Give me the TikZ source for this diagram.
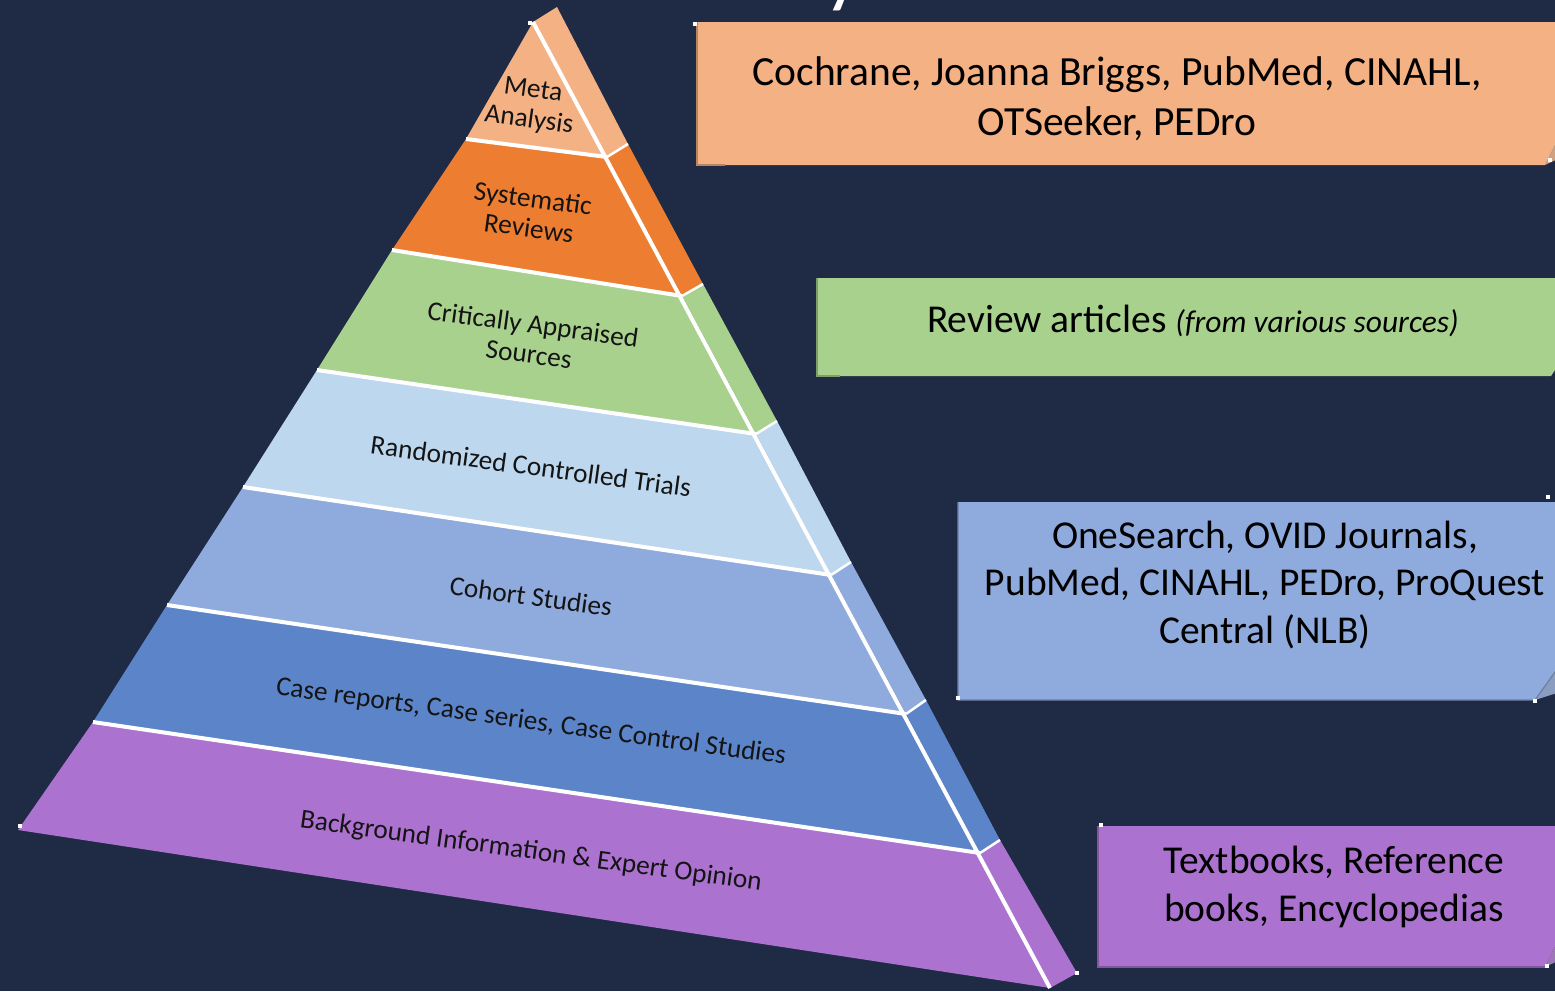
\documentclass[tikz,border=0pt]{standalone}
\usepackage{fontspec}
\setmainfont{Carlito}
\usetikzlibrary{calc}

\definecolor{bgnavy}{HTML}{1F2A44}
\definecolor{cMeta}{HTML}{F4B183}
\definecolor{cSys}{HTML}{ED7D31}
\definecolor{cCrit}{HTML}{A9D18E}
\definecolor{cRct}{HTML}{BDD7EE}
\definecolor{cCoh}{HTML}{8FAADC}
\definecolor{cCase}{HTML}{5B84C9}
\definecolor{cBack}{HTML}{AC72D0}
\definecolor{ink}{HTML}{141414}

\tikzset{
  ridge/.style={white, line width=4pt},
  seam/.style={white, line width=4pt},
  sideseam/.style={white, line width=2.5pt},
  tierlabel/.style={text=ink, rotate=-7.8, align=center, inner sep=0pt,
                    font=\fontsize{27.3}{30}\selectfont},
  boxtext/.style={text=black, align=center, inner sep=0pt},
  handle/.style={fill=white, draw=none, minimum size=4pt, inner sep=0pt},
  flap/.style={fill=#1!70!gray},
  rim/.style={draw=#1!75!black, line width=1.2pt},
}

\begin{document}
\begin{tikzpicture}[x=1pt,y=-1pt]
\useasboundingbox (0,0) rectangle (1555,991);
\clip (0,0) rectangle (1555,991);
\fill[bgnavy] (0,0) rectangle (1555,991);

% heading, mostly above the visible area
\node[text=white, font=\bfseries\fontsize{60}{60}\selectfont, anchor=base] (title) at (842,1) {y};

% ---- pyramid corner points: left edge (L), ridge (R), back edge of side (S)
\coordinate (L0) at (533,22);  \coordinate (R0) at (533,22);  \coordinate (S0) at (557,7);
\coordinate (L1) at (466,139); \coordinate (R1) at (607,157); \coordinate (S1) at (628,144);
\coordinate (L2) at (392,250); \coordinate (R2) at (682,296); \coordinate (S2) at (703,284);
\coordinate (L3) at (317,370); \coordinate (R3) at (756,434); \coordinate (S3) at (777,421);
\coordinate (L4) at (243,487); \coordinate (R4) at (831,575); \coordinate (S4) at (851,562);
\coordinate (L5) at (167,605); \coordinate (R5) at (906,714); \coordinate (S5) at (926,700);
\coordinate (L6) at (93,722);  \coordinate (R6) at (980,853); \coordinate (S6) at (1000,840);
\coordinate (L7) at (18,830);  \coordinate (R7) at (1050,988); \coordinate (S7) at (1077,973);

% tiers: front face and side face
\foreach \i/\j/\c in {0/1/cMeta,1/2/cSys,2/3/cCrit,3/4/cRct,4/5/cCoh,5/6/cCase,6/7/cBack}{
  \fill[\c] (L\i) -- (R\i) -- (R\j) -- (L\j) -- cycle;
  \fill[\c] (R\i) -- (S\i) -- (S\j) -- (R\j) -- cycle;
}
\foreach \i in {1,...,6}{
  \draw[seam] (L\i) -- (R\i);
  \draw[sideseam] (R\i) -- (S\i);
}
\draw[ridge] (R0) -- (R7);

% tier labels
\node[tierlabel] (meta) at (531,106) {Meta\\Analysis};
\node[tierlabel] (sys)  at (531,213) {Systematic\\Reviews};
\node[tierlabel] (crit) at (531,339) {Critically Appraised\\Sources};
\node[tierlabel] (rct)  at (531,466) {Randomized Controlled Trials};
\node[tierlabel] (coh)  at (531,596) {Cohort Studies};
\node[tierlabel] (case) at (531,722) {Case reports, Case series, Case Control Studies};
\node[tierlabel] (back) at (531,852) {Background Information \& Expert Opinion};

% ---- source boxes (folded corner at the lower right)
\fill[cMeta] (697,22) -- (1575,22) -- (1575,105) -- (1545,165) -- (697,165) -- cycle;
\fill[flap=cMeta] (1545,165) -- (1560,135) -- (1560,158) -- cycle;
\draw[rim=cMeta] (697,22) -- (697,165) -- (725,165);

\fill[cCrit] (817,278) -- (1575,278) -- (1575,340) -- (1551,376) -- (817,376) -- cycle;
\draw[rim=cCrit] (817,278) -- (817,376) -- (840,376);

\fill[cCoh] (958,502) -- (1575,502) -- (1575,644) -- (1535,700) -- (958,700) -- cycle;
\fill[flap=cCoh] (1535,700) -- (1560,665) -- (1560,692) -- cycle;
\draw[rim=cCoh] (958,502) -- (958,700) -- (1535,700) -- (1560,665);

\fill[cBack] (1098,826) -- (1575,826) -- (1575,905) -- (1545,967) -- (1098,967) -- cycle;
\fill[flap=cBack] (1545,967) -- (1560,936) -- (1560,960) -- cycle;
\draw[rim=cBack] (1098,826) -- (1098,967) -- (1545,967);

\node[boxtext, font=\fontsize{41.5}{50}\selectfont] (src1) at (1117,99)
  {Cochrane, Joanna Briggs, PubMed, CINAHL,\\OTSeeker, PEDro};
\node[boxtext, font=\fontsize{39.5}{48}\selectfont] (src2) at (1193,321)
  {Review articles {\itshape\fontsize{31.5}{31.5}\selectfont (from various sources)}};
\node[boxtext, font=\fontsize{39.5}{47.5}\selectfont] (src3) at (1265,585)
  {OneSearch, OVID Journals,\\PubMed, CINAHL, PEDro, ProQuest\\Central (NLB)};
\node[boxtext, font=\fontsize{39.5}{48}\selectfont] (src4) at (1334,887)
  {Textbooks, Reference\\books, Encyclopedias};

% selection handles
\foreach \p in {(530,23),(20,826),(1077,973),(695,24),(1550,160),(1548,497),(1535,701),(958,698),(1101,825),(1547,966)}
  \node[handle] at \p {};
\end{tikzpicture}
\end{document}
